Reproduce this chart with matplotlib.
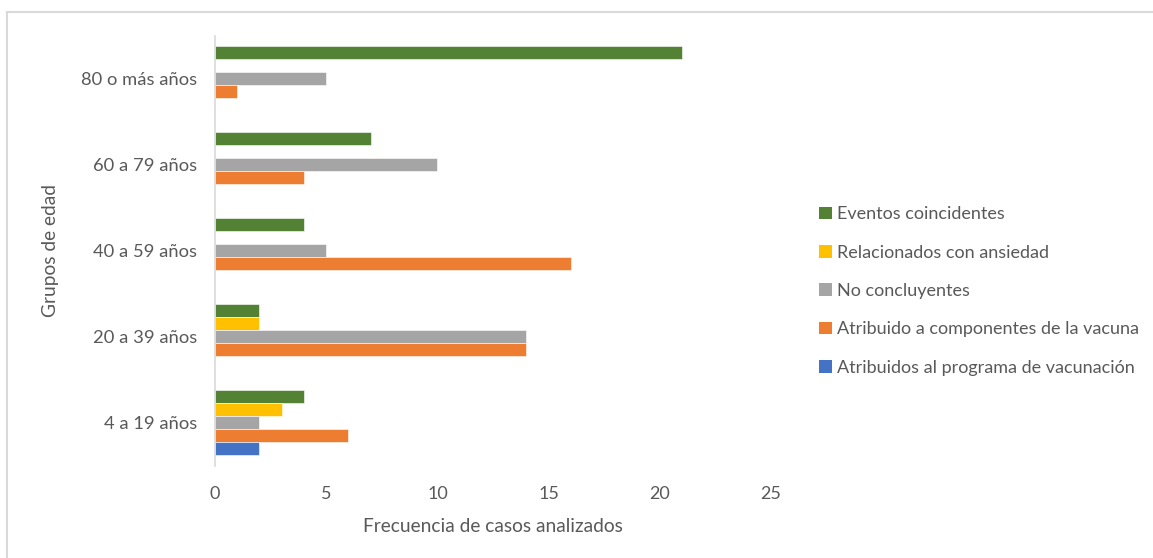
import matplotlib
matplotlib.use("Agg")
import matplotlib.pyplot as plt
from matplotlib.patches import Patch
from matplotlib.lines import Line2D
import numpy as np

categories = ["4 a 19 años", "20 a 39 años", "40 a 59 años", "60 a 79 años", "80 o más años"]
series_names = [
    "Eventos coincidentes",
    "Relacionados con ansiedad",
    "No concluyentes",
    "Atribuido a componentes de la vacuna",
    "Atribuidos al programa de vacunación",
]
eventos_coincidentes = [4, 2, 4, 7, 21]
relacionados_ansiedad = [3, 2, 0, 0, 0]
no_concluyentes = [2, 14, 5, 10, 5]
atribuido_componentes = [6, 14, 16, 4, 1]
atribuidos_programa = [2, 0, 0, 0, 0]
x_ticks = [0, 5, 10, 15, 20, 25]

series_values = [eventos_coincidentes, relacionados_ansiedad, no_concluyentes,
                 atribuido_componentes, atribuidos_programa]
colors = ["#548235", "#FFC000", "#A5A5A5", "#ED7D31", "#4472C4"]
text_color = "#595959"

plt.rcParams["font.family"] = ["Lato", "DejaVu Sans"]

W, H = 1153, 558
fig = plt.figure(figsize=(W / 100, H / 100), dpi=100)
ax = fig.add_axes([215 / W, 1 - 465.5 / H, (771 - 215) / W, (465.5 - 35.5) / H])

bar_h = 0.151
y = np.arange(len(categories))
n = len(series_values)
for i, (vals, col) in enumerate(zip(series_values, colors)):
    offset = (n - 1) / 2 * bar_h - i * bar_h
    ax.barh(y + offset, vals, height=bar_h, color=col, edgecolor="white", linewidth=0.4)

ax.set_xlim(0, 25)
ax.set_ylim(-0.5, 4.5)
ax.set_xticks(x_ticks)
ax.set_xticklabels([str(t) for t in x_ticks], color=text_color, fontsize=13)
ax.set_yticks(y)
ax.set_yticklabels(categories, color=text_color, fontsize=13.2)
ax.tick_params(axis="both", length=0)
ax.tick_params(axis="x", pad=14.5)
ax.tick_params(axis="y", pad=13)

for side in ["top", "right", "bottom"]:
    ax.spines[side].set_visible(False)
ax.spines["left"].set_color("#D9D9D9")
ax.spines["left"].set_linewidth(1.2)

ax.set_xlabel("Frecuencia de casos analizados", color=text_color, fontsize=13.8, labelpad=12)
ax.set_ylabel("Grupos de edad", color=text_color, fontsize=13.8, labelpad=15.5)

handles = [Patch(facecolor=c, edgecolor="none") for c in colors]
leg = fig.legend(handles, series_names, loc="upper left",
                 bbox_to_anchor=(812 / W, 1 - 199 / H),
                 frameon=False, fontsize=13, labelcolor=text_color,
                 handlelength=0.7, handleheight=0.7, handletextpad=0.3,
                 labelspacing=1.24, borderaxespad=0)

# chart frame: top and left edges
fig.add_artist(Line2D([7 / W, 1], [1 - 12 / H, 1 - 12 / H],
                      color="#D9D9D9", linewidth=1.5, transform=fig.transFigure))
fig.add_artist(Line2D([7 / W, 7 / W], [0, 1 - 12 / H],
                      color="#D9D9D9", linewidth=1.5, transform=fig.transFigure))

fig.savefig("out.png", dpi=100, facecolor="white")
